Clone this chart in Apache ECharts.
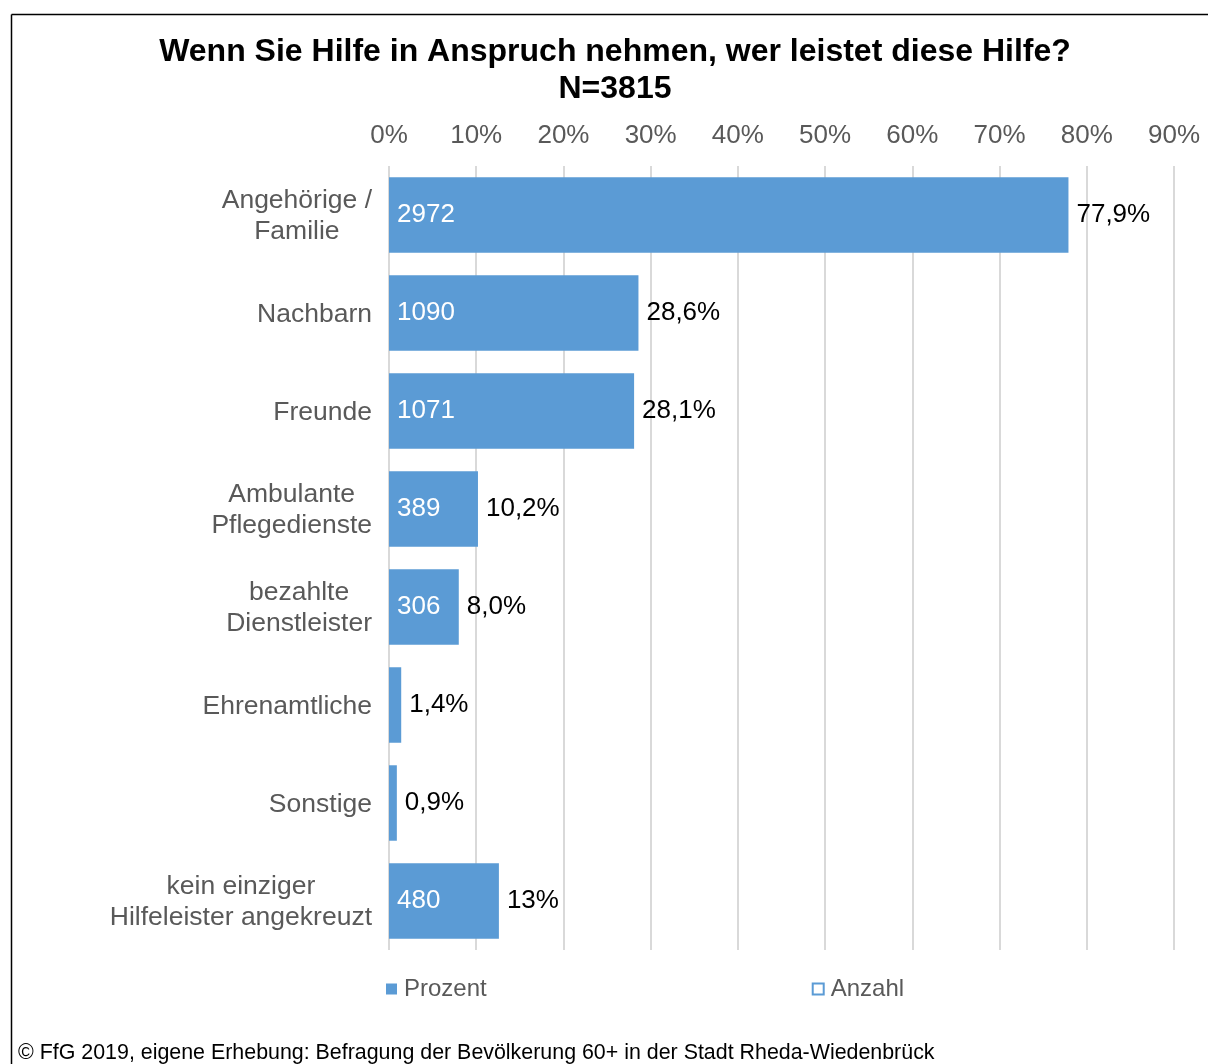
<!DOCTYPE html>
<html>
<head>
<meta charset="utf-8">
<script src="https://cdn.jsdelivr.net/npm/echarts@6/dist/echarts.min.js"></script>
<style>
  html, body { margin: 0; padding: 0; background: #fff; }
  #chart { width: 1208px; height: 1064px; }
</style>
</head>
<body>
<div id="chart"></div>
<script>
// Daten aus der Grafik
const categories = [
  "Angehörige /\nFamilie",
  "Nachbarn",
  "Freunde",
  "Ambulante\nPflegedienste",
  "bezahlte\nDienstleister",
  "Ehrenamtliche",
  "Sonstige",
  "kein einziger\nHilfeleister angekreuzt"
];
const prozent = [77.9, 28.6, 28.1, 10.2, 8.0, 1.4, 0.9, 12.6];
const prozentLabels = ["77,9%", "28,6%", "28,1%", "10,2%", "8,0%", "1,4%", "0,9%", "13%"];
const anzahl = [2972, 1090, 1071, 389, 306, null, null, 480];
const totalN = 3815;
const xTicks = [0, 10, 20, 30, 40, 50, 60, 70, 80, 90];

const FONT = "'Liberation Sans', Arial, sans-serif";
const BLUE = "#5b9bd5";

const chart = echarts.init(document.getElementById("chart"));

const option = {
  backgroundColor: "#fff",
  animation: false,
  title: {
    text: "Wenn Sie Hilfe in Anspruch nehmen, wer leistet diese Hilfe?\nN=" + totalN,
    left: 615,
    textAlign: "center",
    top: 34,
    padding: 0,
    textStyle: { fontFamily: FONT, fontSize: 32, fontWeight: "bold", color: "#000", lineHeight: 37 }
  },
  grid: { left: 389, right: 34, top: 166, bottom: 114, containLabel: false },
  legend: {
    left: 386,
    top: 977,
    padding: 0,
    itemWidth: 11,
    itemHeight: 11,
    itemGap: 325,
    icon: "rect",
    textStyle: { fontFamily: FONT, fontSize: 24, color: "#595959", padding: [0, 0, 0, 2] },
    data: [
      { name: "Prozent", itemStyle: { color: BLUE } },
      { name: "Anzahl", itemStyle: { color: "#fff", borderColor: BLUE, borderWidth: 2 } }
    ]
  },
  xAxis: [
    {
      type: "value",
      position: "top",
      min: 0,
      max: xTicks[xTicks.length - 1],
      interval: 10,
      axisLine: { show: false },
      axisTick: { show: false },
      axisLabel: {
        margin: 17,
        fontFamily: FONT,
        fontSize: 26,
        color: "#595959",
        formatter: (v) => v + "%"
      },
      splitLine: { show: true, lineStyle: { color: "#d9d9d9", width: 2 } }
    },
    {
      type: "value",
      min: 0,
      max: totalN * xTicks[xTicks.length - 1] / 100,
      show: false,
      splitLine: { show: false }
    }
  ],
  yAxis: {
    type: "category",
    inverse: true,
    data: categories,
    axisLine: { show: false },
    axisTick: { show: false },
    axisLabel: {
      margin: 17,
      fontFamily: FONT,
      fontSize: 26.5,
      color: "#595959",
      lineHeight: 31,
      padding: [3, 0, 0, 0],
      formatter: (v) => v.split("\n").map((l) => "{c|" + l + "}").join("\n"),
      rich: {
        c: { align: "center", fontFamily: FONT, fontSize: 26.5, color: "#595959", lineHeight: 31 }
      }
    }
  },
  series: [
    {
      name: "Prozent",
      type: "bar",
      xAxisIndex: 0,
      data: prozent,
      barCategoryGap: "23%",
      itemStyle: { color: BLUE },
      label: {
        show: true,
        position: "right",
        distance: 8,
        fontFamily: FONT,
        fontSize: 26,
        color: "#000",
        padding: [3, 0, 0, 0],
        formatter: (p) => prozentLabels[p.dataIndex]
      }
    },
    {
      name: "Anzahl",
      type: "bar",
      xAxisIndex: 1,
      data: anzahl,
      barGap: "-100%",
      barCategoryGap: "23%",
      itemStyle: { color: "transparent", borderWidth: 0 },
      label: {
        show: true,
        position: "insideLeft",
        distance: 8,
        fontFamily: FONT,
        fontSize: 26,
        color: "#fff",
        padding: [3, 0, 0, 0],
        formatter: (p) => (p.value == null ? "" : String(p.value))
      },
      z: 3
    }
  ],
  graphic: [
    { type: "line", shape: { x1: 11.5, y1: 14.5, x2: 1208, y2: 14.5 }, style: { stroke: "#000", lineWidth: 1.5 } },
    { type: "line", shape: { x1: 11.5, y1: 14.5, x2: 11.5, y2: 1064 }, style: { stroke: "#000", lineWidth: 1.5 } },
    {
      type: "text",
      left: 18,
      top: 1043,
      style: {
        text: "© FfG 2019, eigene Erhebung: Befragung der Bevölkerung 60+ in der Stadt Rheda-Wiedenbrück",
        font: "21.4px 'Liberation Sans', Arial, sans-serif",
        fill: "#000"
      }
    }
  ]
};

chart.setOption(option);
</script>
</body>
</html>
